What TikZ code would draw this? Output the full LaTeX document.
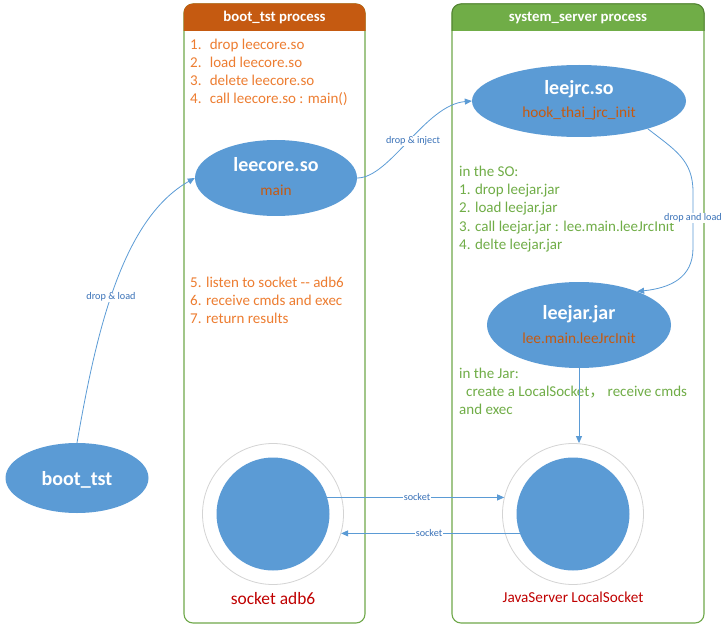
\documentclass[tikz,border=0pt]{standalone}
\usepackage{fontspec}
\setmainfont{Carlito}
\newfontfamily\cjk{Noto Sans CJK SC}
\usetikzlibrary{shapes.geometric,arrows.meta}
\definecolor{ballblue}{HTML}{5B9BD5}
\definecolor{headorange}{HTML}{C55A11}
\definecolor{headgreen}{HTML}{70AD47}
\definecolor{headrim}{HTML}{548235}
\definecolor{panelgreen}{HTML}{6FA84A}
\definecolor{textorange}{HTML}{ED7D31}
\definecolor{textgreen}{HTML}{70AD47}
\definecolor{funcorange}{HTML}{C55A11}
\definecolor{sockred}{HTML}{C00000}
\definecolor{labelblue}{HTML}{3A72B8}
\definecolor{ringgray}{HTML}{D4D4D4}

\begin{document}
\begin{tikzpicture}[x=1pt,y=-1pt]
    \tikzset{
      panel/.style={draw=panelgreen, line width=1.1pt, fill=white, rounded corners=9pt},
      ball/.style={ellipse, fill=ballblue, inner sep=0pt},
      ring/.style={circle, draw=ringgray, line width=0.8pt, fill=white, minimum size=141pt, inner sep=0pt},
      hole/.style={circle, fill=ballblue, minimum size=113pt, inner sep=0pt},
      title/.style={font=\bfseries\fontsize{20}{22}\selectfont, text=white, anchor=base, inner sep=0pt},
      func/.style={font=\fontsize{15.3}{17}\selectfont, text=funcorange, anchor=base, inner sep=0pt},
      headtext/.style={font=\bfseries\fontsize{14.8}{16}\selectfont, text=white, anchor=base, inner sep=0pt},
      orangeline/.style={font=\fontsize{15}{16}\selectfont, text=textorange, anchor=base west, inner sep=0pt},
      greenline/.style={font=\fontsize{15}{16}\selectfont, text=textgreen, anchor=base west, inner sep=0pt},
      link/.style={draw=ballblue, line width=0.8pt, -{Triangle[length=7pt,width=6pt]}},
      linklabel/.style={font=\fontsize{10.2}{12}\selectfont, text=labelblue, fill=white, inner sep=1pt},
      sockname/.style={text=sockred, anchor=base, inner sep=0pt}
    }
    \useasboundingbox (0,0) rectangle (728,631);

    % boot_tst process panel
    \draw[panel] (184,4) rectangle (365,623);
    \begin{scope}
      \clip (178,0) rectangle (371,31);
      \filldraw[fill=headorange, draw=headorange, line width=1pt, rounded corners=9pt] (184,4) rectangle (365,60);
    \end{scope}
    \node[headtext] (bootHead) at (274.5,22) {boot\_tst process};

    % system_server process panel
    \draw[panel] (452,4) rectangle (704,623);
    \begin{scope}
      \clip (446,0) rectangle (710,31);
      \filldraw[fill=headgreen, draw=headrim, line width=1pt, rounded corners=9pt] (452,4) rectangle (704,60);
    \end{scope}
    \node[headtext] (sysHead) at (578,22) {system\_server process};

    % steps in boot_tst
    \node[orangeline] (bootStepA) at (190,50) {1.\hspace{0.55em}drop leecore.so};
    \node[orangeline] (bootStepB) at (190,68) {2.\hspace{0.55em}load leecore.so};
    \node[orangeline] (bootStepC) at (190,86) {3.\hspace{0.55em}delete leecore.so};
    \node[orangeline] (bootStepD) at (190,104) {4.\hspace{0.55em}call leecore.so : main()};
    \node[orangeline] (bootStepE) at (190,287) {5. listen to socket -{}- adb6};
    \node[orangeline] (bootStepF) at (190,305) {6. receive cmds and exec};
    \node[orangeline] (bootStepG) at (190,323) {7. return results};

    % steps in system_server
    \node[greenline] (soHead) at (459,177) {in the SO:};
    \node[greenline] (soStepA) at (459,195) {1. drop leejar.jar};
    \node[greenline] (soStepB) at (459,213) {2. load leejar.jar};
    \node[greenline] (soStepC) at (459,231) {3. call leejar.jar : lee.main.leeJrcInit};
    \node[greenline] (soStepD) at (459,249) {4. delte leejar.jar};
    \node[greenline] (jarHead) at (459,378) {in the Jar:};
    \node[greenline] (jarStepA) at (466,396) {create a LocalSocket{\cjk ，}\ receive cmds};
    \node[greenline] (jarStepB) at (459,414) {and exec};

    % modules
    \node[ball, minimum width=162pt, minimum height=76pt] (leecore) at (276,178) {};
    \node[title] (leecoreName) at (276,172) {leecore.so};
    \node[func] (leecoreFunc) at (276,196) {main};

    \node[ball, minimum width=214pt, minimum height=72pt] (leejrc) at (579,101) {};
    \node[title] (leejrcName) at (579,95) {leejrc.so};
    \node[func] (leejrcFunc) at (579,118) {hook\_thai\_jrc\_init};

    \node[ball, minimum width=184pt, minimum height=86pt] (leejar) at (579,325) {};
    \node[title] (leejarName) at (579,319) {leejar.jar};
    \node[func] (leejarFunc) at (579,343) {lee.main.leeJrcInit};

    \node[ball, minimum width=143pt, minimum height=70pt] (bootTst) at (77,478) {};
    \node[title] (bootTstName) at (77,485) {boot\_tst};

    % sockets
    \node[ring] (adbRing) at (273,514) {};
    \node[hole] (adbCore) at (273,514) {};
    \node[sockname, font=\fontsize{17.4}{20}\selectfont] (adbName) at (273,604) {socket adb6};
    \node[ring] (javaRing) at (573,514) {};
    \node[hole] (javaCore) at (573,514) {};
    \node[sockname, font=\fontsize{15.2}{17}\selectfont] (javaName) at (573,602) {JavaServer LocalSocket};

    % connectors
    \draw[link] (bootTst.north) .. controls (95,340) and (120,220) .. (leecore.west);
    \draw[link] (leecore.east) .. controls (390,178) and (425,105) .. (leejrc.west);
    \draw[link] (leejrc.-22) .. controls (675,150) and (693,160) .. (693,192) -- (693,248)
      .. controls (693,278) and (670,288) .. (leejar.30);
    \draw[link] (leejar.south) -- (leejar.south |- javaRing.north);
    \draw[link] (adbCore.17) -- (javaRing.166 |- adbCore.17);
    \draw[link] (javaCore.200) -- (adbRing.-16 |- javaCore.200);

    \node[linklabel] (loadLabel) at (111,297) {drop \& load};
    \node[linklabel] (injectLabel) at (413,141) {drop \& inject};
    \node[linklabel] (jarLabel) at (693,218) {drop and load};
    \node[linklabel] (sockOut) at (417,497) {socket};
    \node[linklabel] (sockIn) at (429,533) {socket};
\end{tikzpicture}
\end{document}
